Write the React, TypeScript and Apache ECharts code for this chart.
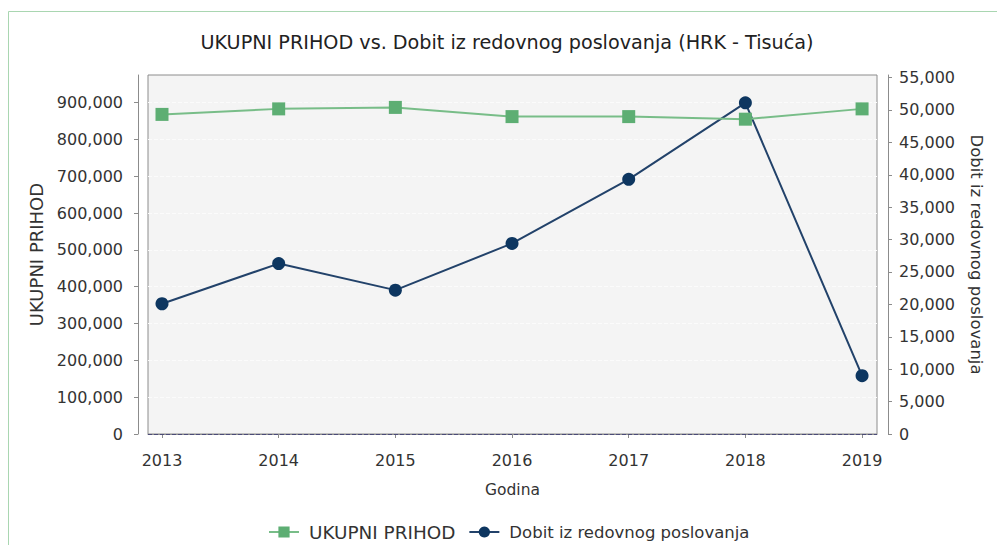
import React, { useEffect, useRef } from "react";
import * as echarts from "echarts";

const years = [2013, 2014, 2015, 2016, 2017, 2018, 2019];
const prihod = [868000, 883000, 887000, 862000, 862000, 855000, 883000];
const dobit = [20100, 26300, 22200, 29400, 39300, 51100, 9000];
const leftTicks = [0, 100000, 200000, 300000, 400000, 500000, 600000, 700000, 800000, 900000];
const rightTicks = [0, 5000, 10000, 15000, 20000, 25000, 30000, 35000, 40000, 45000, 50000, 55000];

const TITLE = "UKUPNI PRIHOD vs. Dobit iz redovnog poslovanja (HRK - Tisuća)";
const NAME_PRIHOD = "UKUPNI PRIHOD";
const NAME_DOBIT = "Dobit iz redovnog poslovanja";
const X_NAME = "Godina";

const FONT = "DejaVu Sans";
const GREEN = "#5dae73";
const GREEN_LINE = "#78bd88";
const NAVY = "#0d3660";
const NAVY_LINE = "#22426a";
const AXIS = "#8c8c8c";
const TEXT = "#333333";

export default function App() {
  const ref = useRef<HTMLDivElement>(null);

  useEffect(() => {
    if (!ref.current) return;
    const chart = echarts.init(ref.current, null, { renderer: "svg" });
    const fmt = (v: number) => Math.round(v).toLocaleString("en-US");
    chart.setOption({
      animation: false,
      backgroundColor: "#ffffff",
      textStyle: { fontFamily: FONT },
      graphic: [
        {
          type: "rect",
          shape: { x: 8.5, y: 11.5, width: 1000, height: 600 },
          style: { fill: "none", stroke: "#a9d6b1", lineWidth: 1 },
          silent: true,
        },
      ],
      title: {
        text: TITLE,
        left: 507,
        textAlign: "center",
        top: 33,
        padding: 0,
        textStyle: { fontFamily: FONT, fontSize: 19.2, fontWeight: "normal", color: "#222" },
      },
      legend: {
        data: [NAME_PRIHOD, NAME_DOBIT],
        left: 268,
        top: 523,
        padding: 0,
        itemWidth: 30,
        itemHeight: 14,
        itemGap: 13,
        formatter: (name: string) => (name === NAME_PRIHOD ? `{u|${name}}` : `{l|${name}}`),
        textStyle: {
          fontFamily: FONT,
          fontSize: 16.5,
          color: TEXT,
          rich: {
            u: { fontFamily: FONT, fontSize: 18.4, color: TEXT, padding: [0, 0, 0, 5] },
            l: { fontFamily: FONT, fontSize: 16.5, color: TEXT, padding: [0, 0, 0, 5] },
          },
        },
      },
      grid: {
        left: 148,
        right: 120,
        top: 75,
        bottom: 111,
        show: true,
        backgroundColor: "#f4f4f4",
        borderColor: AXIS,
        borderWidth: 1,
        containLabel: false,
      },
      xAxis: {
        type: "value",
        min: 2012.88,
        max: 2019.128,
        offset: 9,
        name: X_NAME,
        nameLocation: "middle",
        nameGap: 39,
        nameTextStyle: { fontFamily: FONT, fontSize: 15.5, color: TEXT },
        axisLine: { show: true, lineStyle: { color: AXIS, width: 1 } },
        axisTick: { show: true, length: 4, customValues: years, lineStyle: { color: AXIS } },
        axisLabel: {
          customValues: years,
          formatter: (v: number) => String(v),
          margin: 9,
          fontFamily: FONT,
          fontSize: 16,
          color: TEXT,
        },
        splitLine: { show: false },
      },
      yAxis: [
        {
          type: "value",
          position: "left",
          min: 0,
          max: 975000,
          offset: 10,
          name: NAME_PRIHOD,
          nameLocation: "middle",
          nameRotate: 90,
          nameGap: 91,
          nameTextStyle: { fontFamily: FONT, fontSize: 18, color: TEXT },
          axisLine: { show: true, lineStyle: { color: AXIS, width: 1 } },
          axisTick: { show: true, length: 4, customValues: leftTicks, lineStyle: { color: AXIS } },
          axisLabel: {
            customValues: leftTicks,
            formatter: fmt,
            margin: 15,
            fontFamily: FONT,
            fontSize: 16,
            color: TEXT,
          },
          splitLine: { show: true, lineStyle: { color: "#fbfbfb", type: "dashed", width: 1 } },
        },
        {
          type: "value",
          position: "right",
          min: 0,
          max: 55400,
          offset: 11,
          name: NAME_DOBIT,
          nameLocation: "middle",
          nameRotate: -90,
          nameGap: 80,
          nameTextStyle: { fontFamily: FONT, fontSize: 16.5, color: TEXT },
          axisLine: { show: true, lineStyle: { color: AXIS, width: 1 } },
          axisTick: { show: true, length: 4, customValues: rightTicks, lineStyle: { color: AXIS } },
          axisLabel: {
            customValues: rightTicks,
            formatter: fmt,
            margin: 11,
            fontFamily: FONT,
            fontSize: 16,
            color: TEXT,
          },
          splitLine: { show: false },
        },
      ],
      series: [
        {
          name: NAME_DOBIT,
          type: "line",
          yAxisIndex: 1,
          z: 2,
          data: years.map((y, i) => [y, dobit[i]]),
          symbol: "circle",
          symbolSize: 13,
          lineStyle: { color: NAVY_LINE, width: 2 },
          itemStyle: { color: NAVY },
          markLine: {
            silent: true,
            symbol: "none",
            label: { show: false },
            lineStyle: { color: "#4b4b78", type: "dashed", width: 1 },
            data: [{ yAxis: 0 }],
          },
        },
        {
          name: NAME_PRIHOD,
          type: "line",
          yAxisIndex: 0,
          z: 3,
          data: years.map((y, i) => [y, prihod[i]]),
          symbol: "rect",
          symbolSize: 13,
          lineStyle: { color: GREEN_LINE, width: 2 },
          itemStyle: { color: GREEN },
        },
      ],
    });
    return () => chart.dispose();
  }, []);

  return (
    <div
      ref={ref}
      style={{ position: "absolute", left: 0, top: 0, width: 997, height: 545 }}
    />
  );
}
